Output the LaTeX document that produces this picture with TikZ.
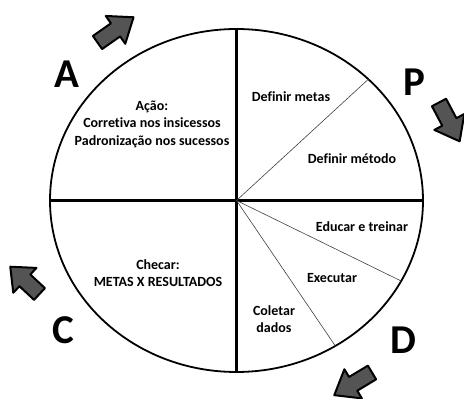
\documentclass[tikz,border=0pt]{standalone}
\usepackage{fontspec}
\setmainfont{Carlito}[Ligatures=CommonOff]
\begin{document}
\begin{tikzpicture}[x=1pt, y=1pt,
phaselabel/.style={
    align=center,
    font=\bfseries\fontsize{14}{17.5}\selectfont},
phaseletter/.style={
    font=\bfseries\fontsize{41}{41}\selectfont},
divider/.style={line width=2.5pt},
subdivider/.style={line width=0.6pt, black!75},
blockarrow/.style={
    draw=black,
    fill=black!67,
    line width=2pt,
    line join=round}
]

\useasboundingbox (0,0) rectangle (464,399);

% circle and quadrants
\coordinate (c) at (236.5,198.5);
\draw[line width=1.8pt] (c) ellipse [x radius=186.5, y radius=171.5];

\path (c) ++(0,171.5) coordinate (top);
\path (c) ++(0,-171.5) coordinate (bottom);
\path (c) ++(-186.5,0) coordinate (left);
\path (c) ++(186.5,0) coordinate (right);

\draw[divider] (top) -- (bottom);
\draw[divider] (left) -- (right);

% sub-steps of P and D
\path (c) ++({186.5*cos(45)},{171.5*sin(45)}) coordinate (metas);
\path (c) ++({186.5*cos(-28)},{171.5*sin(-28)}) coordinate (treinar);
\path (c) ++({186.5*cos(-58)},{171.5*sin(-58)}) coordinate (executar);

\draw[subdivider] (c) -- (metas);
\draw[subdivider] (c) -- (treinar);
\draw[subdivider] (c) -- (executar);

% texts
\node (acao) at (152,275) [phaselabel] {Ação:\\Corretiva nos insicessos\\Padronização nos sucessos};
\node (defmetas) at (291,302) [phaselabel] {Definir metas};
\node (defmetodo) at (352,240) [phaselabel] {Definir método};
\node (educar) at (362,172) [phaselabel] {Educar e treinar};
\node (exec) at (332,121) [phaselabel] {Executar};
\node (coletar) at (274,80) [phaselabel] {Coletar\\dados};
\node (checar) at (158,126) [phaselabel] {Checar:\\METAS X RESULTADOS};

\node (A) at (67,325) [phaseletter] {A};
\node (P) at (414,317) [phaseletter] {P};
\node (C) at (63,69) [phaseletter] {C};
\node (D) at (403,59) [phaseletter] {D};

% turning arrows
\draw[blockarrow, shift={(97.5,356.5)}, rotate=35]
    (0,8) -- (22,8) -- (22,17) -- (44,0) -- (22,-17) -- (22,-8) -- (0,-8) -- cycle;
\draw[blockarrow, shift={(439,296.5)}, rotate=-62]
    (0,8) -- (22,8) -- (22,17) -- (44,0) -- (22,-17) -- (22,-8) -- (0,-8) -- cycle;
\draw[blockarrow, shift={(39.5,105)}, rotate=137]
    (0,8) -- (20,8) -- (20,17) -- (40,0) -- (20,-17) -- (20,-8) -- (0,-8) -- cycle;
\draw[blockarrow, shift={(372,26.5)}, rotate=211]
    (0,8) -- (22,8) -- (22,17) -- (44,0) -- (22,-17) -- (22,-8) -- (0,-8) -- cycle;

\end{tikzpicture}
\end{document}
